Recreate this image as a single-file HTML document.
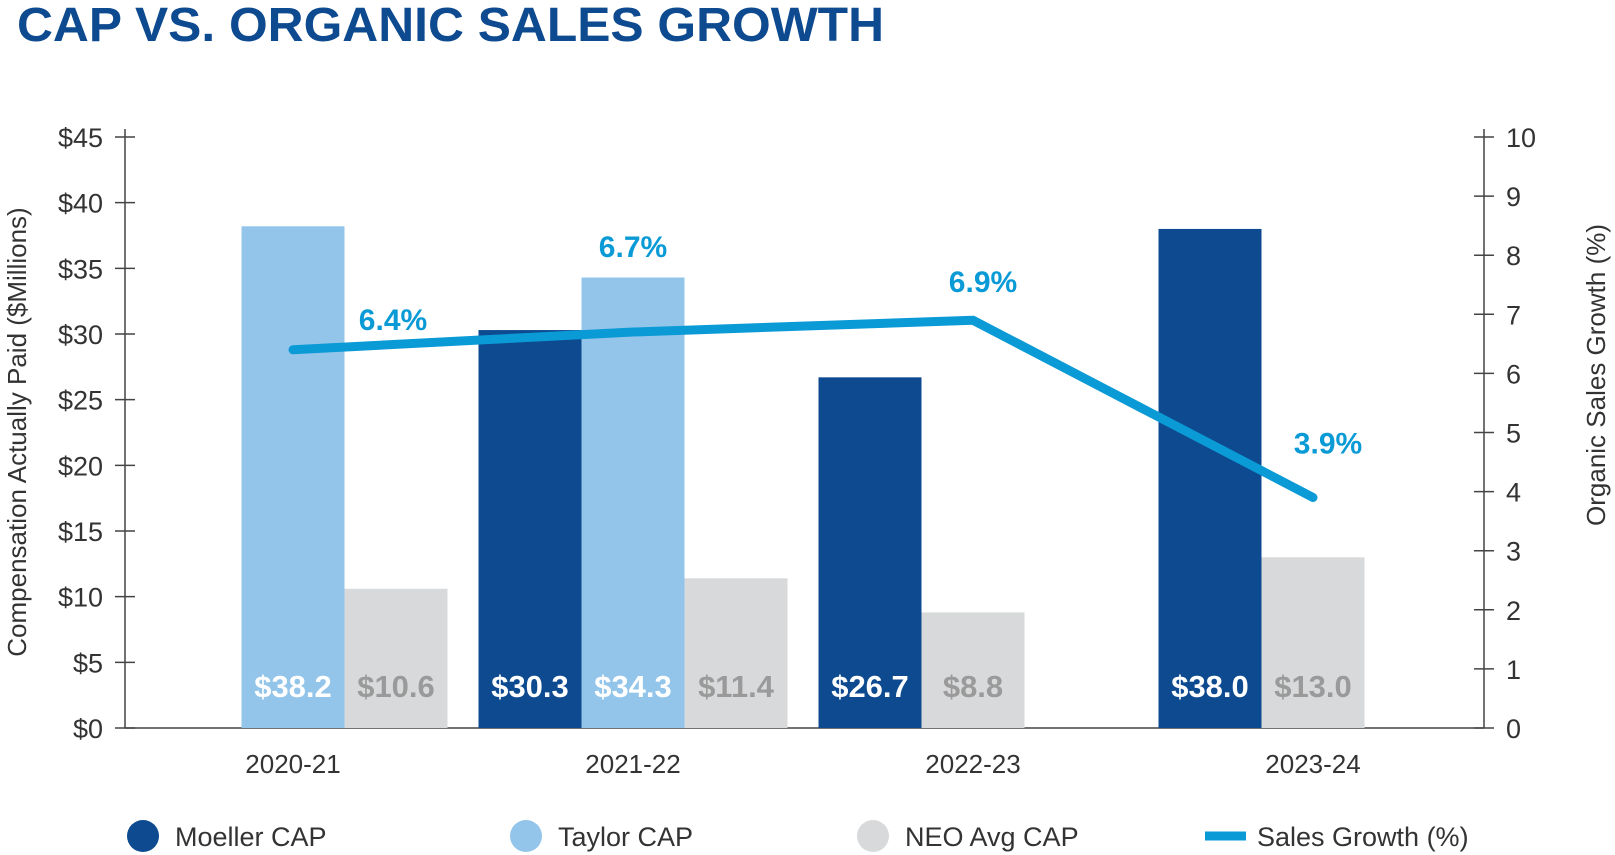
<!DOCTYPE html>
<html><head><meta charset="utf-8"><style>
html,body{margin:0;padding:0;background:#fff;}
svg{display:block;font-family:"Liberation Sans",sans-serif;}
</style></head><body>
<svg id="chart" width="1615" height="855" viewBox="0 0 1615 855" xmlns="http://www.w3.org/2000/svg">
<text x="17" y="41" font-size="48" font-weight="bold" fill="#0d4a8f" textLength="867" lengthAdjust="spacingAndGlyphs">CAP VS. ORGANIC SALES GROWTH</text>
<g id="g"></g>
</svg>
<script>
const categories = ["2020-21","2021-22","2022-23","2023-24"];
const moellerCAP = [null, 30.3, 26.7, 38.0];
const taylorCAP = [38.2, 34.3, null, null];
const neoCAP = [10.6, 11.4, 8.8, 13.0];
const salesGrowth = [6.4, 6.7, 6.9, 3.9];
const leftTicks = [0,5,10,15,20,25,30,35,40,45];
const rightTicks = [0,1,2,3,4,5,6,7,8,9,10];

const NS="http://www.w3.org/2000/svg";
const g=document.getElementById('g');
function el(tag,attrs,text){const e=document.createElementNS(NS,tag);for(const k in attrs)e.setAttribute(k,attrs[k]);if(text!==undefined)e.textContent=text;g.appendChild(e);return e;}
const Y0=728,Y1=137,LX=125,RX=1484,BW=103;
const yL=v=>Y0-(v/45)*(Y0-Y1);
const yR=v=>Y0-(v/10)*(Y0-Y1);
const cx=i=>293+340*i;

// axes
let a=el('line',{x1:LX,y1:Y1-8,x2:LX,y2:Y0,stroke:'#444','stroke-width':1.5});

a=el('line',{x1:RX,y1:Y1-8,x2:RX,y2:Y0,stroke:'#444','stroke-width':1.5});

a=el('line',{x1:LX,y1:Y0,x2:RX,y2:Y0,stroke:'#444','stroke-width':1.5});

leftTicks.forEach(v=>{
  const t=el('line',{x1:LX-10,x2:LX+10,y1:yL(v),y2:yL(v),stroke:'#444','stroke-width':1.5});
  
  const l=el('text',{x:LX-22,y:yL(v)+10,'text-anchor':'end','font-size':27,fill:'#333'},'$'+v);
  
});
rightTicks.forEach(v=>{
  const t=el('line',{x1:RX-10,x2:RX+10,y1:yR(v),y2:yR(v),stroke:'#444','stroke-width':1.5});
  
  const l=el('text',{x:RX+22,y:yR(v)+10,'font-size':27,fill:'#333'},String(v));
  
});
let t=el('text',{x:0,y:0,transform:'translate(26,432) rotate(-90)','text-anchor':'middle','font-size':26,fill:'#333'},'Compensation Actually Paid ($Millions)');

t=el('text',{x:0,y:0,transform:'translate(1605,375) rotate(-90)','text-anchor':'middle','font-size':26,fill:'#333'},'Organic Sales Growth (%)');


function bar(x,v,fill,txtFill,name){
  const r=el('rect',{x:x,y:yL(v),width:BW,height:Y0-yL(v),fill:fill});
  
  const l=el('text',{x:x+BW/2,y:697,'text-anchor':'middle','font-size':31,'font-weight':'bold',fill:txtFill},'$'+v.toFixed(1));
  
}
categories.forEach((c,i)=>{
  const x=cx(i);
  if(moellerCAP[i]!==null) bar(x-1.5*BW,moellerCAP[i],'#0d4a8f','#fff','bar-moeller-'+c);
  if(taylorCAP[i]!==null) bar(x-0.5*BW,taylorCAP[i],'#93c5ea','#fff','bar-taylor-'+c);
  const nx = taylorCAP[i]!==null ? x+0.5*BW : x-0.5*BW;
  bar(nx,neoCAP[i],'#d8d9db','#9a9a9a','bar-neo-'+c);
  const xl=el('text',{x:x,y:773,'text-anchor':'middle','font-size':26,fill:'#333'},c);
  
});
// line
const pts=salesGrowth.map((v,i)=>cx(i)+','+yR(v)).join(' ');
const pl=el('polyline',{points:pts,fill:'none',stroke:'#0a9ad6','stroke-width':9,'stroke-linecap':'round','stroke-linejoin':'round'});

const labelDx=[100,0,10,15], labelDy=[-20,-75,-28,-44];
salesGrowth.forEach((v,i)=>{
  const l=el('text',{x:cx(i)+labelDx[i],y:yR(v)+labelDy[i],'text-anchor':'middle','font-size':30,'font-weight':'bold',fill:'#0a9ad6'},v.toFixed(1)+'%');
  
});
// legend
const leg=[['#0d4a8f','Moeller CAP',143],['#93c5ea','Taylor CAP',526],['#d8d9db','NEO Avg CAP',873]];
leg.forEach(([c,n,x])=>{
  const ci=el('circle',{cx:x,cy:836,r:16,fill:c});
  
  const tx=el('text',{x:x+32,y:846,'font-size':27,fill:'#333'},n);
  
});
const ll=el('line',{x1:1205,x2:1246,y1:836,y2:836,stroke:'#0a9ad6','stroke-width':9});

const lt=el('text',{x:1257,y:846,'font-size':27,fill:'#333'},'Sales Growth (%)');

</script>
</body></html>
